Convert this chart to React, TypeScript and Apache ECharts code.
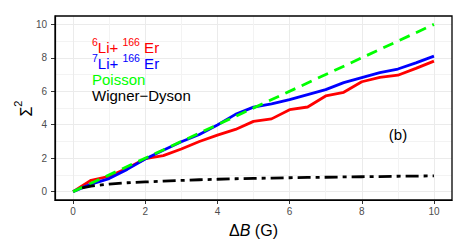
import { useEffect, useRef } from "react";
import * as echarts from "echarts";

// ---- data ----
const deltaB = [0, 0.5, 1, 1.5, 2, 2.5, 3, 3.5, 4, 4.5, 5, 5.5, 6, 6.5, 7, 7.5, 8, 8.5, 9, 9.5, 10];
const li6Er166 = [0, 0.68, 0.92, 1.4, 1.97, 2.15, 2.55, 3.0, 3.38, 3.72, 4.2, 4.35, 4.9, 5.06, 5.72, 5.94, 6.57, 6.83, 6.96, 7.37, 7.8];
const li7Er166 = [0, 0.45, 0.78, 1.33, 1.95, 2.48, 2.98, 3.42, 3.98, 4.62, 5.05, 5.25, 5.5, 5.8, 6.1, 6.52, 6.82, 7.11, 7.33, 7.7, 8.1];
const poissonX = [0, 10];
const poissonY = [0, 10];
const wignerX = [0.25, 0.5, 1, 1.5, 2, 2.5, 3, 3.5, 4, 4.5, 5, 5.5, 6, 6.5, 7, 7.5, 8, 8.5, 9, 9.5, 10];
const wignerY = [0.22, 0.33, 0.45, 0.53, 0.58, 0.63, 0.67, 0.71, 0.74, 0.77, 0.79, 0.81, 0.83, 0.85, 0.86, 0.88, 0.89, 0.9, 0.92, 0.93, 0.94];
const majorTicks = [0, 2, 4, 6, 8, 10];
const minorTicks = [1, 3, 5, 7, 9];

const FONT = "'Liberation Sans', Arial, Helvetica, sans-serif";
const RED = "#FF0000";
const BLUE = "#0000FF";
const GREEN = "#00FF00";
const BLACK = "#000000";

const GRID = { left: 55, right: 17, top: 16, bottom: 50 };
const W = 469;
const H = 250;

function pairs(xs: number[], ys: number[]) {
  return xs.map((x, i) => [x, ys[i]]);
}

function majorAxis(extra: any) {
  return {
    type: "value",
    min: -0.5,
    max: 10.5,
    gridIndex: 0,
    axisLine: { show: true, onZero: false, lineStyle: { color: "#000000", width: 1.2 } },
    axisTick: {
      show: true,
      length: 4,
      customValues: majorTicks,
      lineStyle: { color: "#333333", width: 1 },
    },
    axisLabel: {
      show: true,
      customValues: majorTicks,
      fontSize: 10,
      fontFamily: FONT,
      color: "#4D4D4D",
      ...extra,
    },
    splitLine: { show: true, lineStyle: { color: "#EBEBEB", width: 1 } },
  };
}

function minorAxis() {
  return {
    type: "value",
    min: -0.5,
    max: 10.5,
    gridIndex: 0,
    axisLine: { show: false },
    axisTick: { show: false, customValues: minorTicks },
    axisLabel: { show: false, customValues: minorTicks },
    splitLine: { show: true, lineStyle: { color: "#F3F3F3", width: 1 } },
  };
}

export default function App() {
  const ref = useRef<HTMLDivElement>(null);

  useEffect(() => {
    document.body.style.margin = "0";
    if (!ref.current) return;
    const chart = echarts.init(ref.current, null, { renderer: "svg" });

    const legendItems = [
      { text: "{s|6}{m|Li+ }{s|166}{m| Er}", color: RED, y: 47 },
      { text: "{s|7}{m|Li+ }{s|166}{m| Er}", color: BLUE, y: 63 },
      { text: "{m|Poisson}", color: GREEN, y: 79 },
      { text: "{m|Wigner\u2212Dyson}", color: BLACK, y: 95 },
    ];

    chart.setOption({
      animation: false,
      backgroundColor: "#FFFFFF",
      grid: {
        ...GRID,
        show: false,
        containLabel: false,
        outerBoundsMode: "none",
      },
      xAxis: [majorAxis({ margin: 6 }), minorAxis()],
      yAxis: [majorAxis({ margin: 8 }), minorAxis()],
      series: [
        {
          type: "line",
          name: "6Li+166Er",
          data: pairs(deltaB, li6Er166),
          symbol: "none",
          showSymbol: false,
          lineStyle: { color: RED, width: 2.8 },
          itemStyle: { color: RED },
          z: 2,
        },
        {
          type: "line",
          name: "7Li+166Er",
          data: pairs(deltaB, li7Er166),
          symbol: "none",
          showSymbol: false,
          lineStyle: { color: BLUE, width: 2.8 },
          itemStyle: { color: BLUE },
          z: 3,
        },
        {
          type: "line",
          name: "Poisson",
          data: pairs(poissonX, poissonY),
          symbol: "none",
          showSymbol: false,
          lineStyle: { color: GREEN, width: 2.8, type: [11, 7] },
          itemStyle: { color: GREEN },
          z: 4,
        },
        {
          type: "line",
          name: "Wigner-Dyson",
          data: pairs(wignerX, wignerY),
          symbol: "none",
          showSymbol: false,
          lineStyle: { color: BLACK, width: 2.8, type: [13, 5, 4, 5] },
          itemStyle: { color: BLACK },
          z: 5,
        },
      ],
      graphic: [
        {
          type: "rect",
          z: 20,
          silent: true,
          shape: {
            x: GRID.left,
            y: GRID.top,
            width: W - GRID.left - GRID.right,
            height: H - GRID.top - GRID.bottom,
          },
          style: { fill: "none", stroke: "#000000", lineWidth: 1.3 },
        },
        ...legendItems.map((it) => ({
          type: "text",
          x: 92,
          y: it.y,
          z: 10,
          style: {
            text: it.text,
            fill: it.color,
            align: "left",
            verticalAlign: "middle",
            textAlign: "left",
            textVerticalAlign: "middle",
            rich: {
              m: { fontSize: 15, fontFamily: FONT, lineHeight: 22, fill: it.color },
              s: { fontSize: 10.5, fontFamily: FONT, lineHeight: 8, verticalAlign: "top", fill: it.color },
            },
          },
        })),
        {
          type: "text",
          x: 398,
          y: 134,
          z: 10,
          style: {
            text: "(b)",
            fill: "#000000",
            fontSize: 15,
            fontFamily: FONT,
            align: "center",
            verticalAlign: "middle",
            textAlign: "center",
            textVerticalAlign: "middle",
          },
        },
        {
          type: "text",
          x: 253.5,
          y: 230.5,
          z: 10,
          style: {
            text: "{m|\u0394}{i|B}{m| (G)}",
            fill: "#000000",
            align: "center",
            verticalAlign: "middle",
            textAlign: "center",
            textVerticalAlign: "middle",
            rich: {
              m: { fontSize: 16, fontFamily: FONT, fill: "#000000", lineHeight: 20 },
              i: { fontSize: 16, fontFamily: FONT, fontStyle: "italic", fill: "#000000", lineHeight: 20 },
            },
          },
        },
        {
          type: "text",
          x: 26,
          y: 108.5,
          rotation: Math.PI / 2,
          z: 10,
          style: {
            text: "{m|\u03A3}{s|2}",
            fill: "#000000",
            align: "center",
            verticalAlign: "middle",
            textAlign: "center",
            textVerticalAlign: "middle",
            rich: {
              m: { fontSize: 16, fontFamily: FONT, lineHeight: 28, fill: "#000000" },
              s: { fontSize: 11, fontFamily: FONT, lineHeight: 10, verticalAlign: "top", fill: "#000000" },
            },
          },
        },
      ],
    });

    return () => {
      chart.dispose();
    };
  }, []);

  return <div ref={ref} style={{ width: W, height: H }} />;
}
